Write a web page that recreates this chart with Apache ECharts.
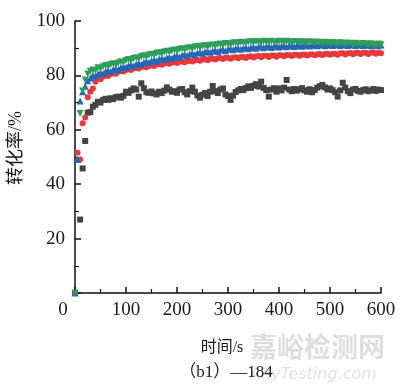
<!DOCTYPE html>
<html><head><meta charset="utf-8">
<script src="https://cdn.jsdelivr.net/npm/echarts@6/dist/echarts.min.js"></script>
<style>html,body{margin:0;padding:0;background:#fff}#c{width:400px;height:390px}</style>
</head><body><div id="c"></div>
<script>
const times = [0,5,10,15,20,25,30,35,40,45,50,55,60,65,70,75,80,85,90,95,100,
105,110,115,120,125,130,135,140,145,150,155,160,165,170,175,180,185,190,195,200,
205,210,215,220,225,230,235,240,245,250,255,260,265,270,275,280,285,290,295,300,
305,310,315,320,325,330,335,340,345,350,355,360,365,370,375,380,385,390,395,400,
405,410,415,420,425,430,435,440,445,450,455,460,465,470,475,480,485,490,495,500,
505,510,515,520,525,530,535,540,545,550,555,560,565,570,575,580,585,590,595,600];

const blackVals = [0,null,27,45.8,55.9,66.3,66.5,68.5,69.2,70.3,70.0,71.0,71.4,71.0,71.6,71.3,72.0,72.2,71.8,72.5,74.0,
73.6,74.5,75.2,74.8,72.2,77.1,75.3,73.8,73.6,74.1,73.4,73.0,74.0,73.5,74.4,75.6,74.8,74.0,74.2,73.6,
74.8,75.0,73.8,73.0,74.2,75.5,74.0,72.6,71.8,72.9,73.5,72.4,74.0,76.1,74.2,73.5,74.8,75.2,73.0,72.4,
71.0,72.6,73.9,74.5,75.0,74.6,75.3,76.0,75.4,76.2,76.8,75.9,77.7,75.4,74.6,72.2,74.8,75.3,74.0,75.2,
74.5,75.5,78.3,74.8,74.2,75.0,74.4,74.9,75.3,74.5,74.0,74.9,73.8,74.6,75.5,76.0,76.5,75.6,74.8,75.2,
74.6,73.8,72.2,74.5,77.3,75.5,74.2,73.5,74.8,75.0,74.3,74.0,74.6,74.9,74.2,74.5,75.0,74.3,74.8,74.6];

const redVals = [0,51.6,49.1,62.4,64.5,72.0,74.0,75.2,77.7,79.0,78.6,79.6,80.1,79.8,80.5,80.9,80.6,81.3,81.7,81.4,82.0,
82.3,82.0,82.6,82.8,82.5,83.1,83.3,83.0,83.5,83.8,83.5,84.0,84.2,83.9,84.4,84.6,84.3,84.7,84.9,84.6,
85.0,85.1,84.8,85.3,85.4,85.1,85.6,85.7,85.4,85.8,86.0,85.6,86.1,86.2,85.8,86.3,86.4,86.0,86.5,86.5,
86.1,86.6,86.7,86.3,86.8,86.8,86.4,86.9,87.0,86.6,87.0,87.1,86.7,87.2,87.2,86.8,87.3,87.3,86.9,87.4,
87.4,87.0,87.5,87.5,87.1,87.6,87.6,87.2,87.6,87.7,87.3,87.7,87.8,87.4,87.8,87.9,87.5,87.9,88.0,87.6,
88.0,88.0,87.6,88.1,88.1,87.7,88.1,88.2,87.8,88.2,88.3,87.9,88.3,88.3,87.9,88.3,88.4,88.0,88.3,88.1];

const blueVals = [0,49.1,70.6,74.0,76.0,78.0,79.0,80.1,79.8,80.6,81.0,80.7,81.5,81.8,81.4,82.2,82.5,82.1,82.9,83.2,83.0,
83.6,83.9,83.5,84.2,84.5,84.1,84.8,85.1,84.7,85.4,85.7,85.3,86.0,86.2,85.8,86.5,86.7,86.3,87.0,87.2,
86.8,87.5,87.7,87.3,87.9,88.1,87.7,88.3,88.5,88.1,88.7,88.9,88.5,89.0,89.2,88.8,89.3,89.5,89.1,89.6,
89.8,89.4,89.9,90.0,89.6,90.1,90.2,89.8,90.3,90.4,90.0,90.5,90.6,90.2,90.6,90.7,90.3,90.7,90.8,90.4,
90.8,90.9,90.5,90.9,91.0,90.6,91.0,91.1,90.7,91.1,91.2,90.8,91.2,91.2,90.9,91.3,91.3,90.9,91.3,91.3,
91.0,91.4,91.3,91.0,91.4,91.3,91.0,91.4,91.3,91.0,91.4,91.2,91.0,91.3,91.2,90.9,91.3,91.1,90.9,91.2];

const greenVals = [0,null,66.0,74.3,78.3,80.5,81.5,82.0,81.8,82.8,82.5,83.2,83.6,83.2,84.0,84.3,83.8,84.6,85.0,84.7,85.5,
85.8,85.4,86.2,86.5,86.1,86.9,87.2,86.8,87.5,87.8,87.4,88.1,88.3,87.9,88.6,88.9,88.5,89.1,89.3,88.9,
89.6,89.8,89.4,90.0,90.2,89.8,90.4,90.6,90.2,90.8,90.9,90.5,91.1,91.2,90.8,91.4,91.5,91.1,91.7,91.6,
91.3,91.9,92.0,91.6,92.2,92.1,91.8,92.3,92.4,92.0,92.5,92.3,92.0,92.6,92.5,92.1,92.6,92.4,92.1,92.6,
92.5,92.1,92.6,92.4,92.0,92.5,92.3,92.0,92.4,92.2,91.9,92.4,92.2,91.9,92.3,92.1,91.8,92.2,92.0,91.7,
92.1,91.9,91.6,92.0,91.8,91.5,91.9,91.7,91.4,91.8,91.6,91.4,91.7,91.5,91.3,91.6,91.4,91.2,91.5,91.3];

const xTicks = [0,100,200,300,400,500,600];
const yTicks = [20,40,60,80,100];
const xTitle = '时间/s';
const yTitle = '转化率/%';
const caption = '（b1）—184';

function pairs(vals){ return times.map((t,i)=>[t, vals[i]]); }

const serif = '"Liberation Serif","Noto Sans CJK SC",serif';
const chart = echarts.init(document.getElementById('c'), null, {renderer:'canvas'});
const axisCommon = {
  axisLine:{show:true,lineStyle:{color:'#111',width:1.5}},
  axisTick:{show:true,inside:true,length:6,lineStyle:{color:'#111',width:1.5}},
  minorTick:{show:true,splitNumber:2,length:4,lineStyle:{color:'#111',width:1.2}},
  splitLine:{show:false}
};
chart.setOption({
  animation:false,
  grid:{left:75,right:19,top:21,bottom:97},
  xAxis:Object.assign({type:'value',min:0,max:600,interval:100,
    axisLabel:{fontFamily:serif,fontSize:19,color:'#1a1a1a',margin:8,
      formatter:v=> v===0 ? '{z|0}' : String(v),
      rich:{z:{fontFamily:serif,fontSize:19,color:'#1a1a1a',padding:[0,24,0,0]}}}},axisCommon),
  yAxis:Object.assign({type:'value',min:0,max:100,interval:20,
    axisLabel:{fontFamily:serif,fontSize:19,color:'#1a1a1a',margin:10,
      formatter:v=> v===0 ? '' : String(v)}},axisCommon),
  graphic:[
    {type:'text',left:250,top:333,z:0,style:{text:'嘉峪检测网',font:'bold 27px "Noto Sans CJK SC"',fill:'#dedede'}},
    {type:'text',left:250,top:367,z:0,style:{text:'AnyTesting.com',font:'italic 16px "DejaVu Sans"',fill:'#e2e2e2'}},
    {type:'text',x:222,y:348,z:10,style:{text:xTitle,font:'16px "Liberation Serif","Noto Sans CJK SC"',fill:'#1a1a1a',align:'center',verticalAlign:'middle'}},
    {type:'text',x:226,y:373,z:10,style:{text:caption,font:'17px "Liberation Serif","Noto Sans CJK SC"',fill:'#1a1a1a',align:'center',verticalAlign:'middle'}},
    {type:'text',x:16,y:148,z:10,rotation:Math.PI/2,style:{text:yTitle,font:'18px "Liberation Serif","Noto Sans CJK SC"',fill:'#1a1a1a',align:'center',verticalAlign:'middle'}}
  ],
  series:[
    {type:'scatter',name:'black',data:pairs(blackVals),symbol:'rect',symbolSize:6,itemStyle:{color:'#444444',opacity:1}},
    {type:'scatter',name:'red',data:pairs(redVals),symbol:'circle',symbolSize:6,itemStyle:{color:'#e6393b',opacity:1}},
    {type:'scatter',name:'blue',data:pairs(blueVals),symbol:'triangle',symbolSize:7,itemStyle:{color:'#2566b8',opacity:1}},
    {type:'scatter',name:'green',data:pairs(greenVals),symbol:'triangle',symbolRotate:180,symbolSize:7,itemStyle:{color:'#2f9d5c',opacity:1}}
  ]
});
</script></body></html>
